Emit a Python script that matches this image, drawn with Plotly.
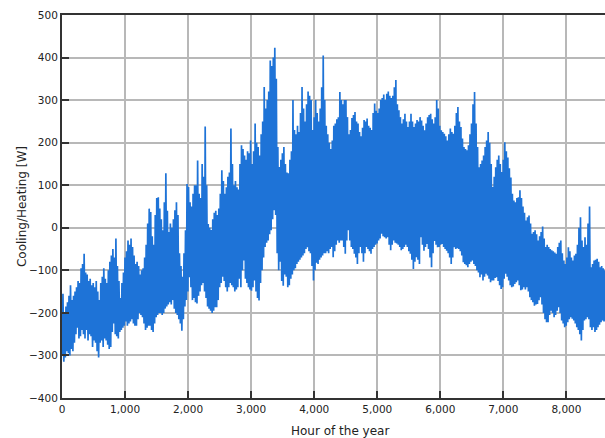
import plotly.graph_objects as go

# Daily extremes of the hourly cooling(+)/heating(-) load, in W, day 0..364
daily_max = [
    -155, -200, -185, -175, -160, -135, -170, -160, -150, -140,
    -125, -130, -95, -85, -61, -105, -110, -125, -120, -135,
    -130, -140, -125, -150, -170, -130, -115, -95, -120, -130,
    -100, -80, -65, -50, -70, -25, -90, -125, -165, -130,
    -105, -70, -55, -30, -40, -25, -45, -65, -85, -80,
    -90, -110, -100, -95, -70, -40, 10, 45, 37, -20,
    -40, 30, 70, 72, 45, 20, -6, 60, 128, 40,
    -10, 10, 0, 20, 41, 60, 30, -60, -90, -115,
    -60, -6, 103, 96, 60, 50, 80, 100, 100, 158,
    80, 70, 150, 120, 238, 100, 9, 0, -5, 20,
    35, 40, 30, 45, 80, 135, 110, 80, 95, 120,
    130, 233, 150, 100, 110, 95, 90, 150, 194, 185,
    170, 160, 180, 175, 205, 150, 180, 245, 200, 190,
    170, 220, 250, 331, 280, 300, 320, 393, 380, 400,
    423, 350, 190, 143, 160, 175, 190, 150, 130, 128,
    160, 180, 300, 230, 220, 240, 225, 270, 331, 280,
    250, 290, 320, 310, 300, 230, 260, 300, 270, 250,
    280, 330, 405, 300, 240, 220, 200, 185, 205, 240,
    245, 255, 260, 319, 300, 290, 300, 300, 260, 220,
    230, 258, 265, 272, 250, 245, 225, 215, 235, 253,
    250, 257, 240, 235, 230, 270, 292, 275, 270, 280,
    300, 305, 313, 300, 315, 320, 310, 305, 310, 330,
    347, 290, 276, 260, 245, 255, 268, 250, 237, 250,
    268, 250, 237, 245, 253, 250, 260, 252, 240, 229,
    245, 260, 265, 268, 255, 245, 260, 300, 280, 240,
    229, 225, 221, 215, 205, 220, 233, 225, 221, 240,
    270, 284, 250, 237, 210, 190, 185, 182, 194, 220,
    245, 290, 319, 245, 190, 142, 150, 158, 170, 190,
    205, 225, 200, 150, 96, 120, 142, 160, 170, 150,
    131, 160, 201, 180, 165, 140, 118, 80, 64, 60,
    70, 72, 88, 70, 50, 35, 17, 25, 29, 10,
    -14, -10, -6, -15, -30, -20, -10, 3, -25, -45,
    -40, -45, -50, -53, -55, -58, -61, -45, -35, -30,
    -60, -77, -85, -70, -46, -55, -70, -77, -65, -61,
    -40, 0, 25, -30, -45, -22, -40, 10, 50, -93,
    -85, -77, -75, -73, -80, -93, -90, -95, -100, -100,
    -95, -105, -110, -100, -120,
]

daily_min = [
    -300, -315, -305, -290, -295, -300, -285, -290, -270, -250,
    -235, -260, -255, -240, -250, -260, -240, -265, -250, -255,
    -280, -265, -270, -290, -305, -270, -265, -280, -260, -265,
    -275, -285, -280, -245, -225, -250, -255, -260, -245, -240,
    -235, -230, -220, -230, -225, -220, -215, -225, -230, -230,
    -215, -200, -205, -210, -225, -240, -235, -230, -230, -240,
    -245, -225, -210, -205, -200, -200, -205, -200, -190, -185,
    -180, -175, -180, -170, -190, -200, -205, -215, -225, -242,
    -215, -185, -170, -150, -116, -140, -170, -165, -175, -178,
    -160, -150, -135, -130, -150, -165, -185, -190, -195, -200,
    -195, -187, -187, -170, -140, -130, -115, -125, -140, -150,
    -140, -130, -135, -140, -150, -145, -140, -120, -140, -100,
    -77, -120, -130, -140, -145, -148, -140, -124, -150, -165,
    -171, -130, -100, -70, -45, -35, -30, -15, -6, 20,
    41, 30, -60, -100, -80, -125, -136, -110, -115, -140,
    -135, -120, -110, -100, -95, -85, -80, -75, -70, -65,
    -60, -50, -46, -55, -60, -90, -124, -100, -82, -85,
    -75, -70, -65, -60, -60, -55, -60, -50, -45, -69,
    -55, -40, -30, -35, -30, -30, -45, -61, -30, -6,
    -30, -45, -50, -61, -70, -85, -60, -45, -60, -80,
    -60, -45, -50, -55, -61, -50, -45, -40, -37, -30,
    -25, -14, -20, -22, -25, -22, -40, -53, -40, -30,
    -35, -37, -40, -45, -53, -50, -45, -40, -45, -55,
    -61, -75, -97, -80, -69, -75, -85, -22, -40, -54,
    -45, -38, -50, -70, -93, -60, -31, -40, -46, -45,
    -40, -38, -45, -50, -54, -60, -70, -85, -70, -46,
    -50, -48, -50, -55, -65, -81, -85, -88, -93, -85,
    -80, -77, -85, -90, -100, -105, -116, -110, -124, -115,
    -108, -112, -120, -128, -124, -124, -118, -116, -125, -135,
    -144, -140, -120, -108, -115, -124, -135, -140, -138, -132,
    -128, -124, -135, -147, -145, -140, -145, -140, -150, -163,
    -170, -175, -183, -180, -179, -170, -163, -180, -200, -215,
    -222, -222, -205, -195, -200, -210, -205, -195, -187, -200,
    -218, -225, -234, -230, -222, -215, -210, -214, -218, -225,
    -234, -240, -250, -265, -240, -218, -215, -210, -215, -234,
    -240, -234, -245, -240, -234, -228, -222, -218, -220, -218,
    -225, -230, -220, -235, -240,
]

x_ticks = [0, 1000, 2000, 3000, 4000, 5000, 6000, 7000, 8000]
y_ticks = [-400, -300, -200, -100, 0, 100, 200, 300, 400, 500]

# Hourly trace: each day drops to its minimum in the early morning and
# climbs to its maximum in the afternoon
hours, load = [], []
for d, (lo, hi) in enumerate(zip(daily_min, daily_max)):
    hours += [24 * d + 5, 24 * d + 15]
    load += [lo, hi]

fig = go.Figure(
    go.Scatter(
        x=hours, y=load, mode="lines",
        line=dict(color="#1e73d7", width=1.7),
        hoverinfo="skip",
    )
)

axis_font = dict(family="DejaVu Sans", size=10.5, color="#222222")
fig.update_layout(
    width=605, height=438,
    margin=dict(l=62, r=0, t=15, b=40),
    paper_bgcolor="white", plot_bgcolor="white",
    showlegend=False,
    font=dict(family="DejaVu Sans", color="#222222"),
    xaxis=dict(
        range=[0, 8612], tickvals=x_ticks,
        ticktext=[f"{v:,}" for v in x_ticks],
        ticks="inside", ticklen=7, tickwidth=1.5, tickcolor="#333333",
        showline=True, linecolor="#333333", linewidth=2, mirror=True,
        showgrid=True, gridcolor="#b8b8b8", gridwidth=1.5,
        zeroline=False, tickfont=axis_font,
    ),
    yaxis=dict(
        range=[-400, 500], tickvals=y_ticks,
        ticks="inside", ticklen=7, tickwidth=1.5, tickcolor="#333333",
        showline=True, linecolor="#333333", linewidth=2,
        showgrid=True, gridcolor="#b8b8b8", gridwidth=1.5,
        zeroline=False, tickfont=axis_font,
        title=dict(text="Cooling/Heating [W]", standoff=0,
                   font=dict(family="DejaVu Sans", size=12, color="#222222")),
    ),
    annotations=[
        dict(text="Hour of the year", xref="paper", yref="paper",
             x=(340 - 62) / 543, y=0, yshift=-33, yanchor="middle",
             showarrow=False,
             font=dict(family="DejaVu Sans", size=12, color="#222222")),
    ],
)

fig.write_html("out.html")
